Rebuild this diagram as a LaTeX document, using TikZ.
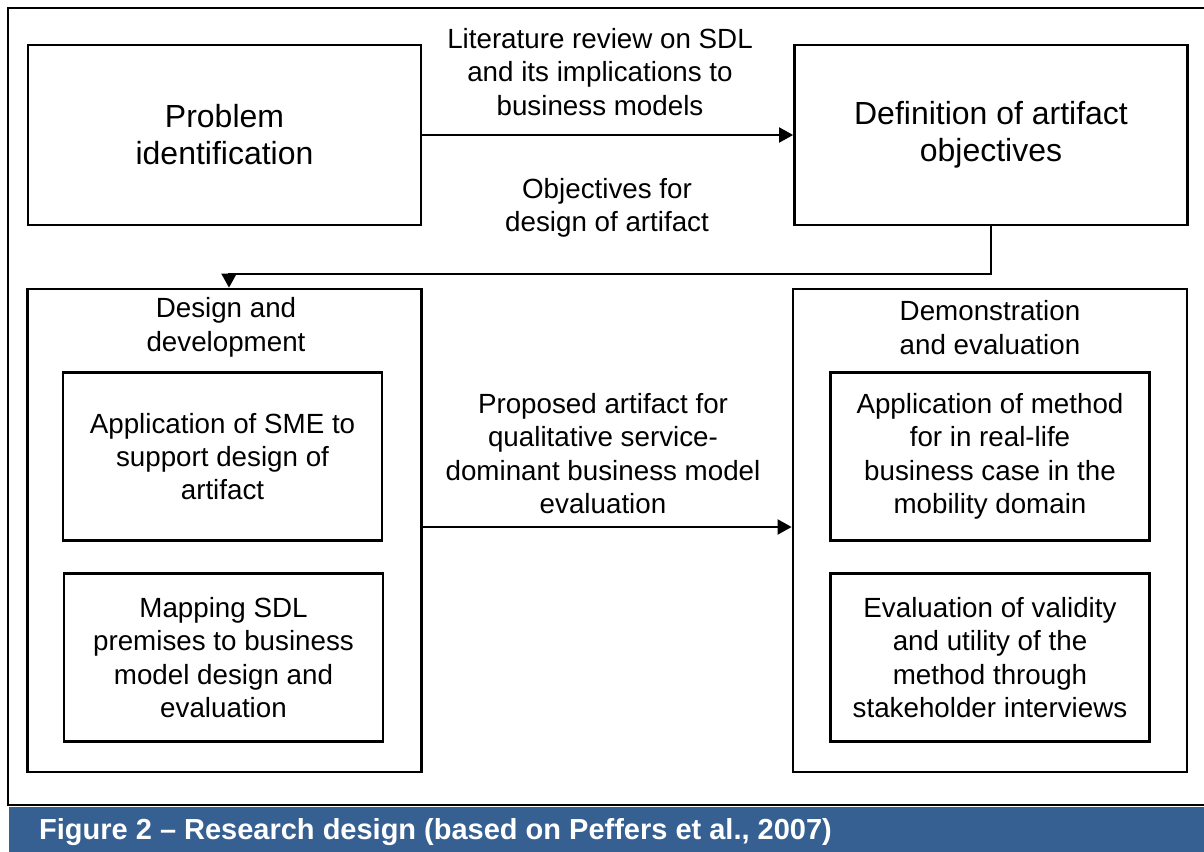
\documentclass[tikz,border=0pt]{standalone}
\usepackage{fontspec}
\setmainfont{Liberation Sans}
\usetikzlibrary{arrows.meta}
\definecolor{capblue}{RGB}{54,96,146}

\begin{document}
\begin{tikzpicture}[x=0.02cm,y=-0.02cm,
   box/.style={draw,line width=1.6pt,inner sep=0pt,align=center},
   bigtxt/.style={font=\fontsize{18.2}{21}\selectfont},
   txt/.style={font=\fontsize{15.8}{19}\selectfont,align=center},
   outerbox/.style={box,minimum width=7.88cm,minimum height=9.66cm},
   innerbox/.style={box,txt,minimum width=6.38cm,minimum height=3.36cm},
   flow/.style={-{Triangle[length=8pt,width=8.5pt]},line width=1.3pt}]
   \useasboundingbox (0,0) rectangle (1204,852);
   \clip (0,0) rectangle (1204,852);
   \draw[line width=1.6pt] (8,8) rectangle (1240,805);
   \fill[capblue] (9,806.5) rectangle (1240,880);
   \node[box,bigtxt,minimum width=7.86cm,minimum height=3.6cm] (problem) at (224.5,135) {Problem\\identification};
   \node[box,bigtxt,minimum width=7.86cm,minimum height=3.6cm] (objectives) at (991,135) {Definition of artifact\\objectives};
   \node[outerbox] (design) at (224.5,530.5) {};
   \node[outerbox] (demo) at (990,530.5) {};
   \node[txt] (designlbl) at (226,327.5) {Design and\\development};
   \node[txt] (demolbl) at (990,327.5) {Demonstration\\and evaluation};
   \node[innerbox] (sme) at (222.5,456.5) {Application of SME to\\support design of\\artifact};
   \node[innerbox] (mapping) at (223.5,657.5) {Mapping SDL\\premises to business\\model design and\\evaluation};
   \node[innerbox] (case) at (990,456.5) {Application of method\\for in real-life\\business case in the\\mobility domain};
   \node[innerbox] (interviews) at (990,657.5) {Evaluation of validity\\and utility of the\\method through\\stakeholder interviews};
   \coordinate (bend) at (229,274);
   \coordinate (mid) at (600,527);
   \draw[flow] (problem.east) -- (objectives.west);
   \draw[flow] (objectives.south) |- (bend) -- (bend |- design.north);
   \draw[flow] (design.east |- mid) -- (demo.west |- mid);
   \node[txt] (litlbl) at (600,72) {Literature review on SDL\\and its implications to\\business models};
   \node[txt] (objlbl) at (607,208) {Objectives for\\design of artifact};
   \node[txt] (artlbl) at (603,453.5) {Proposed artifact for\\qualitative service-\\dominant business model\\evaluation};
   \node[anchor=west,text=white,font=\bfseries\fontsize{16.5}{20}\selectfont] (caption) at (33,832) {Figure 2 -- Research design (based on Peffers et al., 2007)};
\end{tikzpicture}
\end{document}
